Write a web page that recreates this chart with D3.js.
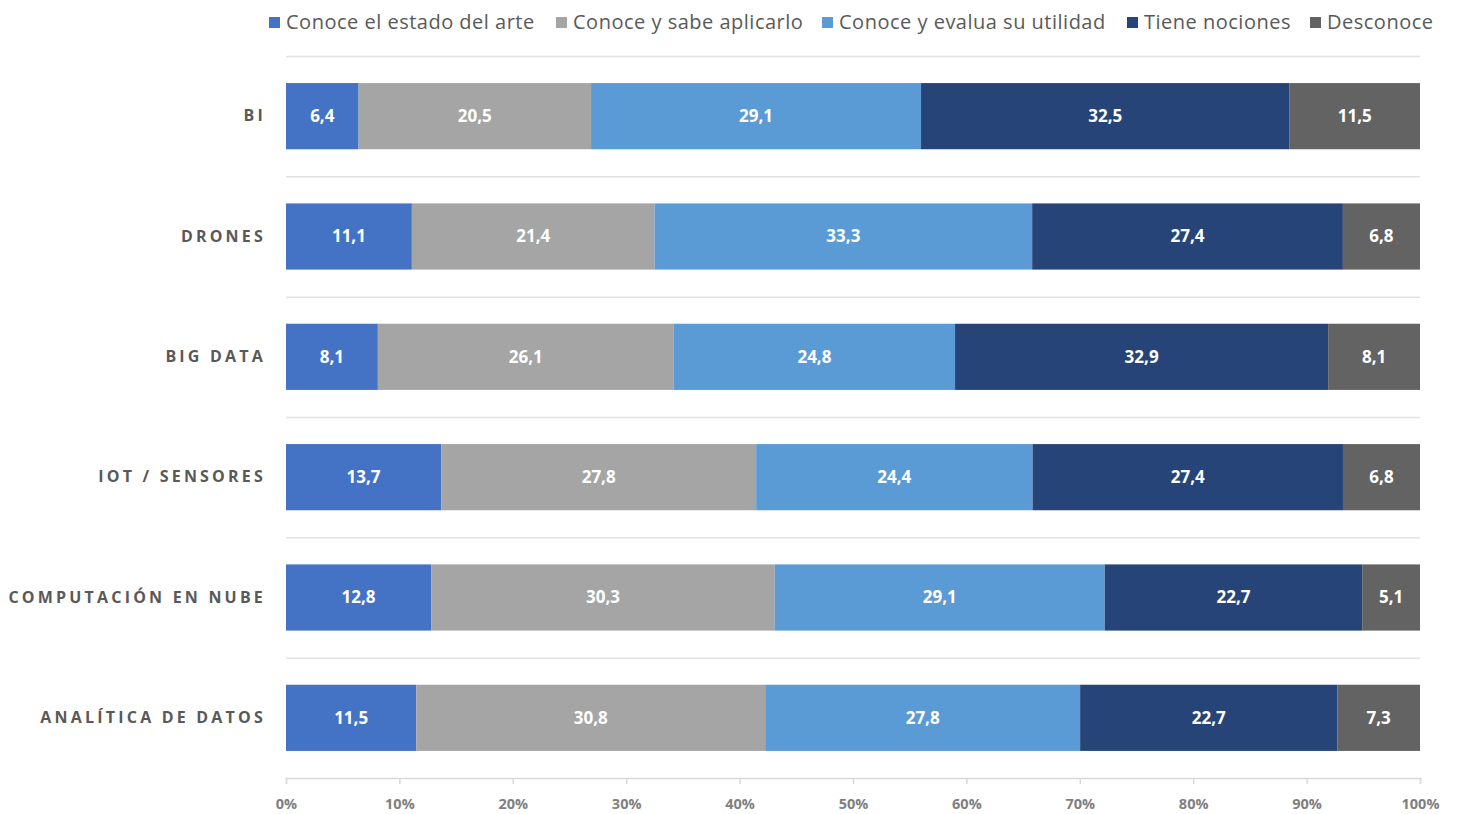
<!DOCTYPE html>
<html>
<head>
<meta charset="utf-8">
<script src="https://cdn.jsdelivr.net/npm/d3@7"></script>
<style>
  body { margin: 0; background: #fff; }
  text { font-family: "Open Sans", "Liberation Sans", sans-serif; }
</style>
</head>
<body>
<div id="chart-area"></div>
<script>
// Data
let categories = ['BI', 'DRONES', 'BIG DATA', 'IOT / SENSORES', 'COMPUTACIÓN EN NUBE', 'ANALÍTICA DE DATOS'];
let seriesNames = ['Conoce el estado del arte', 'Conoce y sabe aplicarlo', 'Conoce y evalua su utilidad', 'Tiene nociones', 'Desconoce'];
let estadoArte = [6.4, 11.1, 8.1, 13.7, 12.8, 11.5];
let sabeAplicar = [20.5, 21.4, 26.1, 27.8, 30.3, 30.8];
let evaluaUtilidad = [29.1, 33.3, 24.8, 24.4, 29.1, 27.8];
let nociones = [32.5, 27.4, 32.9, 27.4, 22.7, 22.7];
let desconoce = [11.5, 6.8, 8.1, 6.8, 5.1, 7.3];
let tickValues = [0, 10, 20, 30, 40, 50, 60, 70, 80, 90, 100];
let colors = ['#4472C4', '#A5A5A5', '#5B9BD5', '#264478', '#636363'];

let seriesValues = [estadoArte, sabeAplicar, evaluaUtilidad, nociones, desconoce];

// SVG drawing area
let margin = { top: 56, right: 38, bottom: 36, left: 286 };
let width = 1458 - margin.left - margin.right,
  height = 814 - margin.top - margin.bottom;

let root = d3.select('#chart-area')
  .append('svg')
  .attr('width', 1458)
  .attr('height', 814);

let svg = root.append('g')
  .attr('transform', 'translate(' + margin.left + ',' + margin.top + ')');

// Build rows and stack as percentages
let rows = categories.map((c, i) => {
  let row = { category: c };
  seriesNames.forEach((s, j) => { row[s] = seriesValues[j][i]; });
  return row;
});
let stack = d3.stack().keys(seriesNames).offset(d3.stackOffsetExpand);
let stacked = stack(rows);

// Scales
let x = d3.scaleLinear().domain([0, 1]).range([0, width]);
let y = d3.scaleBand().domain(categories).range([0, height]).paddingInner(0.45).paddingOuter(0.225);
let color = d3.scaleOrdinal().domain(seriesNames).range(colors);

// Category gridlines (between bands)
let step = y.step();
let gridY = d3.range(categories.length).map(i => i * step);
svg.selectAll('.grid')
  .data(gridY)
  .enter()
  .append('line')
  .attr('x1', 0)
  .attr('x2', width)
  .attr('y1', d => d + 0.5)
  .attr('y2', d => d + 0.5)
  .attr('stroke', '#e2e2e2')
  .attr('stroke-width', 1.5);

// Bars
let layer = svg.selectAll('.layer')
  .data(stacked)
  .enter()
  .append('g')
  .attr('fill', d => color(d.key));

layer.selectAll('rect')
  .data(d => d.map(v => ({ key: d.key, v: v })))
  .enter()
  .append('rect')
  .attr('x', d => x(d.v[0]))
  .attr('y', d => y(d.v.data.category))
  .attr('width', d => x(d.v[1]) - x(d.v[0]))
  .attr('height', y.bandwidth());

// Value labels
layer.selectAll('text')
  .data(d => d.map(v => ({ key: d.key, v: v })))
  .enter()
  .append('text')
  .attr('x', d => (x(d.v[0]) + x(d.v[1])) / 2)
  .attr('y', d => y(d.v.data.category) + y.bandwidth() / 2)
  .attr('dy', '0.35em')
  .attr('text-anchor', 'middle')
  .attr('fill', '#fff')
  .attr('font-size', 17)
  .attr('font-weight', 'bold')
  .text(d => String(d.v.data[d.key]).replace('.', ','));

// X axis
let xAxis = d3.axisBottom(x)
  .tickValues(tickValues.map(t => t / 100))
  .tickFormat(d => Math.round(d * 100) + '%')
  .tickSize(6)
  .tickPadding(15);
let xSvg = svg.append('g')
  .attr('class', 'x-axis axis')
  .attr('transform', 'translate(0,' + height + ')')
  .call(xAxis);
xSvg.select('.domain').attr('stroke', '#d9d9d9').attr('stroke-width', 1.5);
xSvg.selectAll('.tick line').attr('stroke', '#d9d9d9').attr('stroke-width', 1.5);
xSvg.selectAll('.tick text')
  .attr('fill', '#7f7f7f')
  .attr('font-size', 14.5)
  .attr('font-weight', 'bold')
  .style('font-family', '"Open Sans", sans-serif');

// Y axis (category labels)
let yAxis = d3.axisLeft(y).tickSize(0).tickPadding(20);
let ySvg = svg.append('g').attr('class', 'y-axis axis').call(yAxis);
ySvg.select('.domain').remove();
ySvg.selectAll('.tick text')
  .attr('fill', '#595959')
  .attr('font-size', 16)
  .attr('font-weight', 'bold')
  .style('letter-spacing', '3.2px')
  .style('font-family', '"Open Sans", sans-serif');

// Legend
let legendX = [269, 556, 822, 1127, 1310];
let legend = root.append('g').attr('class', 'legend');
let items = legend.selectAll('g')
  .data(seriesNames)
  .enter()
  .append('g')
  .attr('transform', (d, i) => 'translate(' + legendX[i] + ',22)');
items.append('rect')
  .attr('x', 0)
  .attr('y', -5)
  .attr('width', 11)
  .attr('height', 11)
  .attr('fill', d => color(d));
items.append('text')
  .attr('x', 17)
  .attr('dy', '0.35em')
  .attr('fill', '#595959')
  .attr('font-size', 20)
  .style('letter-spacing', '0.5px')
  .style('font-family', '"Open Sans", sans-serif')
  .text(d => d);
</script>
</body>
</html>
